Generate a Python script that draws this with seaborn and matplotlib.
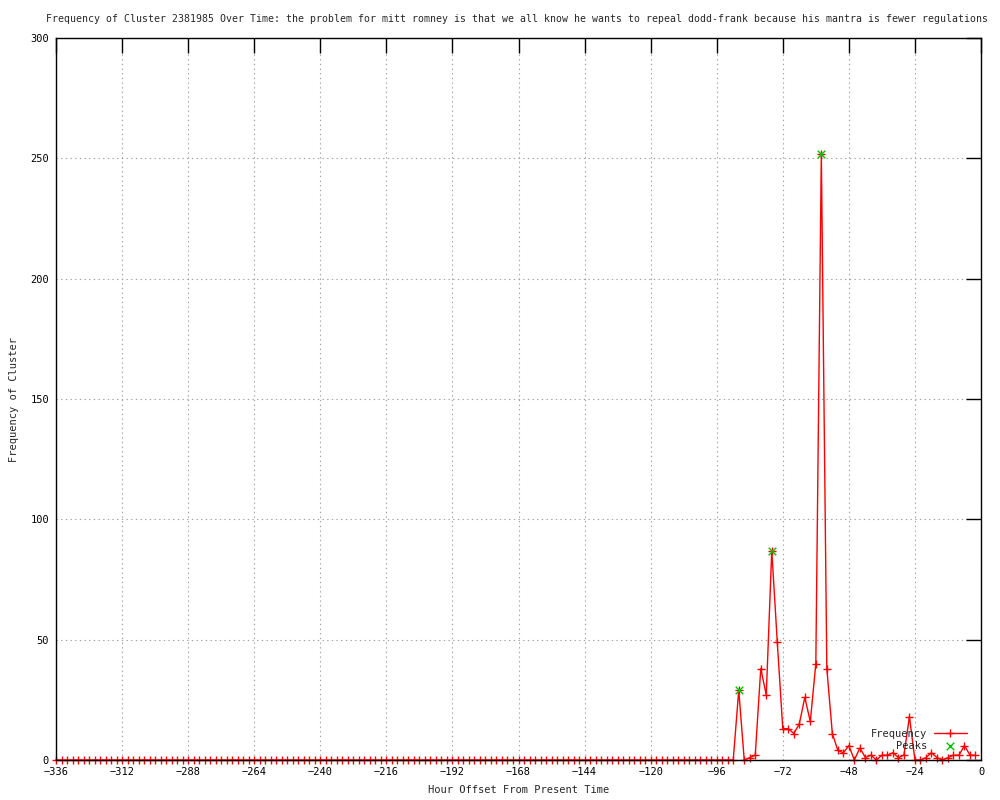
import numpy as np
import pandas as pd
import matplotlib
matplotlib.use('Agg')
import matplotlib.pyplot as plt
import seaborn as sns


TITLE = ('Frequency of Cluster 2381985 Over Time: the problem for mitt romney is that '
         'we all know he wants to repeal dodd-frank because his mantra is fewer regulations')

# one sample every two hours, from -336 up to -2
hours = np.arange(-336, 0, 2)
freq_quiet = [0] * 124  # -336 .. -90, flat
freq_active = [29, 0, 1, 2, 38, 27, 87, 49, 13, 13,
               11, 15, 26, 16, 40, 252, 38, 11, 4, 3,
               6, 0, 5, 1, 2, 0, 2, 2, 3, 1,
               2, 18, 0, 0, 1, 3, 1, 0, 1, 2,
               2, 6, 2, 2]
freq = freq_quiet + freq_active

peak_hours = [-88, -76, -58]
peak_freq = [29, 87, 252]

x_ticks = list(range(-336, 1, 24))
y_ticks = list(range(0, 301, 50))


def plot():
    sns.set_style('white')
    plt.rcParams['font.family'] = ['DejaVu Sans Mono']

    df = pd.DataFrame({'hour': hours, 'freq': freq})
    peaks = pd.DataFrame({'hour': peak_hours, 'freq': peak_freq})

    fig = plt.figure(figsize=(10, 8), dpi=100)
    ax = fig.add_axes([0.056, 0.05, 0.925, 0.9025])

    sns.lineplot(data=df, x='hour', y='freq', ax=ax, color='red', lw=1,
                 marker='+', markersize=6, markeredgewidth=1,
                 markeredgecolor='red', label='Frequency', clip_on=False)
    sns.scatterplot(data=peaks, x='hour', y='freq', ax=ax, color='#00c000',
                    marker='x', s=30, linewidth=1, label='Peaks', zorder=5)

    ax.set_xlim(-336, 0)
    ax.set_ylim(0, 300)
    ax.set_xticks(x_ticks)
    ax.set_yticks(y_ticks)
    ax.set_xticklabels([str(t).replace('-', '\u2212') for t in x_ticks])
    ax.grid(True, color='#a0a0a0', linestyle=(0, (1.2, 3)), lw=0.8)
    ax.tick_params(direction='in', length=11, width=1, top=True, right=True,
                   labelsize=7.5, pad=5, colors='black')
    for s in ax.spines.values():
        s.set_color('black')
        s.set_linewidth(1)

    fig.text(0.517, 1 - 19 / 800, TITLE, fontsize=7.1, ha='center', va='center')
    ax.set_xlabel('Hour Offset From Present Time', fontsize=7.5, labelpad=6)
    ax.set_ylabel('Frequency of Cluster', fontsize=7.5, labelpad=8)

    leg = ax.legend(loc='lower right', bbox_to_anchor=(0.995, 0.0),
                    frameon=False, fontsize=7.5, markerfirst=False,
                    handlelength=3.2, labelspacing=0.15, handletextpad=0.6)
    for t in leg.get_texts():
        t.set_ha('right')

    plt.savefig('out.png', dpi=100)


if __name__ == '__main__':
    plot()
